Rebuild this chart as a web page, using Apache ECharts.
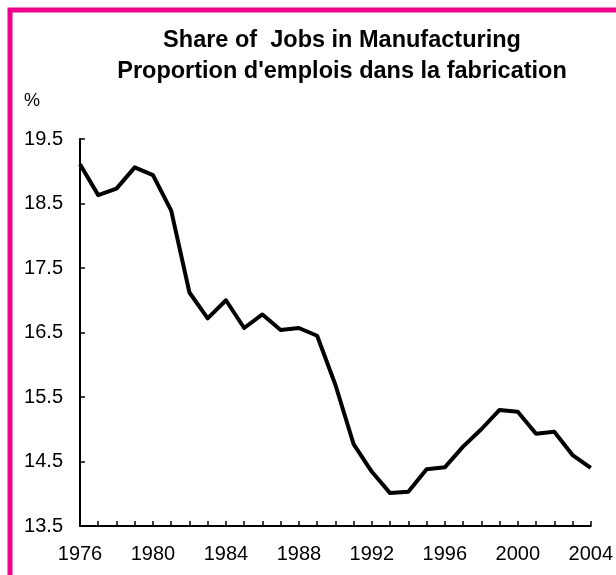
<!DOCTYPE html>
<html>
<head>
<meta charset="utf-8">
<script src="https://cdn.jsdelivr.net/npm/echarts@6/dist/echarts.min.js"></script>
<style>
  html, body { margin: 0; padding: 0; background: #fff; }
  #chart { width: 616px; height: 575px; }
</style>
</head>
<body>
<div id="chart"></div>
<script>
// years on the x axis
const years = ['1976','1977','1978','1979','1980','1981','1982','1983','1984','1985',
  '1986','1987','1988','1989','1990','1991','1992','1993','1994','1995',
  '1996','1997','1998','1999','2000','2001','2002','2003','2004'];
// share of jobs in manufacturing, %
const share = [19.11, 18.63, 18.73, 19.06, 18.94, 18.39, 17.12, 16.72, 17.0, 16.57,
  16.78, 16.54, 16.57, 16.45, 15.69, 14.77, 14.34, 14.01, 14.03, 14.38,
  14.41, 14.73, 15.0, 15.30, 15.27, 14.93, 14.96, 14.60, 14.40];
const yTicks = [13.5, 14.5, 15.5, 16.5, 17.5, 18.5, 19.5];

const fontFam = 'Liberation Sans, Arial, sans-serif';
let myChart = echarts.init(document.getElementById('chart'));

let option = {
  backgroundColor: '#fff',
  animation: false,
  title: {
    text: 'Share of  Jobs in Manufacturing\nProportion d\'emplois dans la fabrication',
    left: 337,
    top: 20,
    textAlign: 'center',
    textStyle: {
      fontFamily: fontFam,
      fontSize: 23.5,
      fontWeight: 'bold',
      color: '#000',
      lineHeight: 31
    }
  },
  // pink frame, cut off on the right and bottom
  graphic: [
    {
      type: 'polyline',
      shape: { points: [[10, 580], [10, 10], [620, 10]] },
      style: { stroke: '#ec008c', lineWidth: 5, fill: null }
    }
  ],
  grid: {
    left: 80,
    right: 22,
    top: 139,
    bottom: 49,
    containLabel: false
  },
  xAxis: {
    type: 'category',
    data: years,
    boundaryGap: false,
    axisLine: { lineStyle: { color: '#000', width: 2 } },
    axisTick: { inside: true, length: 5, interval: 0, lineStyle: { color: '#000', width: 1.5 } },
    axisLabel: {
      interval: 3,
      margin: 18,
      color: '#000',
      fontFamily: fontFam,
      fontSize: 20
    },
    splitLine: { show: false }
  },
  yAxis: {
    type: 'value',
    min: 13.5,
    max: 19.5,
    name: '%',
    nameLocation: 'end',
    nameGap: 29,
    nameTextStyle: {
      color: '#000',
      fontFamily: fontFam,
      fontSize: 18,
      align: 'right',
      padding: [0, 40, 0, 0]
    },
    axisLine: { show: true, lineStyle: { color: '#000', width: 2 } },
    axisTick: { show: true, inside: true, length: 5, customValues: yTicks, lineStyle: { color: '#000', width: 1.5 } },
    axisLabel: {
      customValues: yTicks,
      margin: 17,
      color: '#000',
      fontFamily: fontFam,
      fontSize: 20,
      formatter: v => v.toFixed(1)
    },
    splitLine: { show: false }
  },
  series: [
    {
      type: 'line',
      data: share,
      showSymbol: false,
      symbol: 'none',
      lineStyle: { color: '#000', width: 4, join: 'round' }
    }
  ]
};

option && myChart.setOption(option);
</script>
</body>
</html>
